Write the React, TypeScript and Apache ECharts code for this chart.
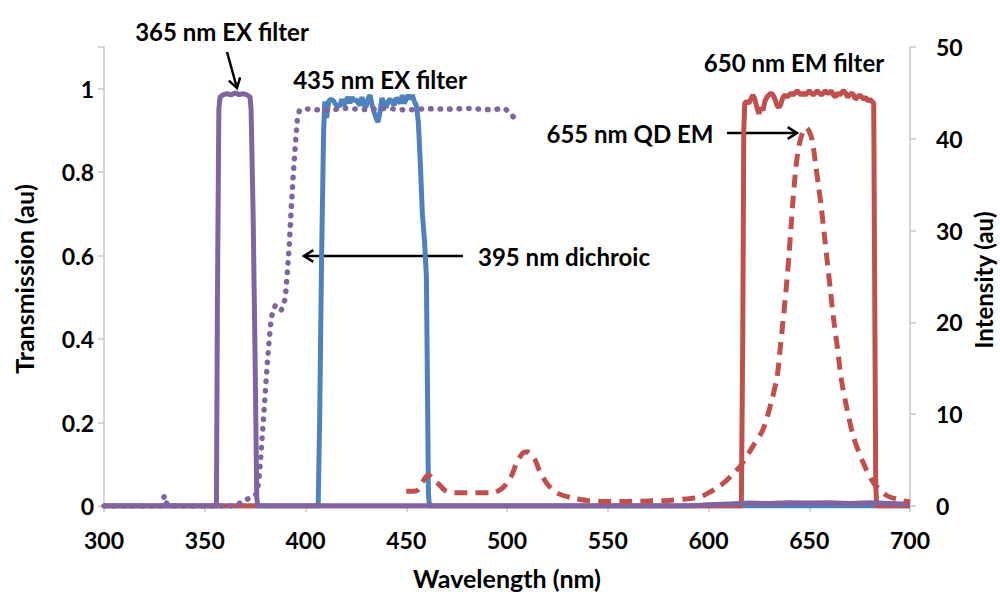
import React, { useEffect, useRef } from "react";
import * as echarts from "echarts";

// ---- axes ----
const xRange = [300, 700];
const xStep = 50;
const transRange = [0, 1.1];
const transStep = 0.2;
const intRange = [0, 50];
const intStep = 10;

// ---- series data: [wavelength nm, value] ----
const ex365: [number, number][] = [
  [300, 0], [355.8, 0], [356.3, 0.5], [357, 0.95], [357.6, 0.98], [359, 0.985], [361, 0.988],
  [363, 0.985], [365, 0.99], [367, 0.986], [369, 0.988], [371, 0.985], [372.5, 0.98], [373, 0.95],
  [374, 0.7], [375, 0.35], [375.8, 0.02], [376.3, 0], [590, 0], [600, 0.003], [610, 0.005],
  [620, 0.007], [630, 0.006], [640, 0.008], [650, 0.007], [660, 0.008], [670, 0.006], [680, 0.008],
  [690, 0.006], [700, 0.004],
];

const dichroic395: [number, number][] = [
  [300, 0], [328.5, 0], [330, 0.025], [331.5, 0], [366, 0], [368, 0.01], [373, 0.02], [376, 0.03],
  [377, 0.07], [378, 0.13], [379, 0.2], [380, 0.27], [381, 0.34], [382, 0.4], [383, 0.45],
  [384, 0.47], [385, 0.48], [386, 0.48], [387, 0.47], [388, 0.47], [389, 0.48], [390, 0.5],
  [391, 0.56], [392, 0.63], [393, 0.72], [394, 0.8], [395, 0.87], [396, 0.93], [397, 0.948],
  [400, 0.952], [410, 0.948], [420, 0.953], [430, 0.95], [440, 0.953], [450, 0.949], [460, 0.952],
  [470, 0.951], [480, 0.953], [490, 0.95], [499, 0.952], [502, 0.94], [505, 0.92],
];

const ex435: [number, number][] = [
  [300, 0], [406.3, 0], [407, 0.2], [408, 0.6], [409, 0.9], [409.6, 0.97], [410.5, 0.93],
  [411.5, 0.97], [412.5, 0.975], [414, 0.97], [415, 0.962], [417, 0.958], [418, 0.975], [419, 0.96],
  [421, 0.98], [422, 0.965], [423, 0.98], [424, 0.97], [425, 0.975], [427, 0.96], [428, 0.98],
  [429, 0.962], [430, 0.955], [431, 0.975], [432, 0.985], [433, 0.962], [434, 0.945], [435, 0.93],
  [436, 0.92], [437, 0.945], [438, 0.978], [439, 0.962], [440, 0.955], [441, 0.97], [442, 0.975],
  [444, 0.96], [445, 0.978], [446, 0.972], [447, 0.965], [448, 0.985], [449, 0.965], [450, 0.975],
  [451, 0.985], [452, 0.975], [453, 0.985], [454, 0.97], [455, 0.96], [456, 0.92], [457, 0.82],
  [458, 0.7], [459, 0.64], [460, 0.55], [460.5, 0.3], [461, 0.03], [461.5, 0], [700, 0],
];

const em650: [number, number][] = [
  [300, 0], [616.3, 0], [617, 0.4], [617.5, 0.9], [618, 0.965], [619, 0.97], [620, 0.965],
  [621, 0.975], [622, 0.985], [623, 0.975], [624, 0.955], [625, 0.94], [626, 0.955], [627, 0.948],
  [628, 0.97], [629, 0.98], [630, 0.985], [631, 0.99], [632, 0.985], [633, 0.975], [634, 0.96],
  [635, 0.955], [636, 0.965], [637, 0.98], [638, 0.985], [639, 0.98], [640, 0.985], [641, 0.99],
  [642, 0.985], [643, 0.99], [644, 0.995], [645, 0.99], [646, 0.985], [647, 0.99], [648, 0.985],
  [649, 0.99], [650, 0.995], [651, 0.99], [652, 0.985], [653, 0.99], [654, 0.995], [655, 0.99],
  [656, 0.985], [657, 0.99], [658, 0.995], [659, 0.99], [660, 0.99], [661, 0.995], [662, 0.985],
  [663, 0.98], [664, 0.99], [665, 0.985], [666, 0.99], [667, 0.995], [668, 0.99], [669, 0.98],
  [670, 0.985], [671, 0.99], [672, 0.985], [673, 0.975], [674, 0.98], [675, 0.985], [676, 0.98],
  [677, 0.975], [678, 0.98], [679, 0.97], [680, 0.975], [681, 0.97], [682, 0.965], [682.5, 0.5],
  [683, 0.05], [683.5, 0], [700, 0],
];

// intensity (right axis)
const qd655: [number, number][] = [
  [450, 1.6], [455, 1.65], [458, 2.6], [461, 3.4], [463, 3.0], [466, 2.4], [470, 1.6], [475, 1.45],
  [485, 1.45], [493, 1.45], [498, 2.0], [502, 3.2], [505, 4.8], [508, 5.8], [510, 5.9], [512, 5.6],
  [514, 5.0], [516, 3.9], [520, 2.4], [525, 1.4], [533, 0.85], [540, 0.6], [550, 0.5], [560, 0.5],
  [570, 0.55], [580, 0.6], [590, 0.8], [596, 1.0], [601, 1.55], [605, 2.1], [609, 2.8],
  [613, 3.7], [616, 4.4], [622, 6.5], [627, 8.3], [631, 11.2], [634, 14], [635.5, 17],
  [637.2, 20.6], [638.8, 24.3], [640, 27.5], [641, 30.5], [642, 33.5], [643, 36], [644, 38],
  [645.5, 39.8], [647, 40.8], [648.5, 41.2], [650, 40.8], [651.5, 39.8], [653, 37.5], [654.5, 35],
  [656, 32.5], [657.5, 29.5], [659, 26.5], [660.5, 23.5], [662, 20.5], [664, 17.2], [666, 13.7],
  [668.5, 10.8], [672, 7.5], [677, 4.6], [682, 2.5], [688, 1.2], [695, 0.65], [700, 0.45],
];

const PURPLE = "#8064A2";
const BLUE = "#4F81BD";
const RED = "#C0504D";
const FONT = "Lato, 'Open Sans', sans-serif";

function arrow(x1: number, y1: number, x2: number, y2: number) {
  const dx = x2 - x1;
  const dy = y2 - y1;
  const len = Math.sqrt(dx * dx + dy * dy);
  const ux = dx / len;
  const uy = dy / len;
  const h = 11;
  const a = (32 * Math.PI) / 180;
  const c = Math.cos(a);
  const s = Math.sin(a);
  const b1 = [x2 - h * (ux * c - uy * s), y2 - h * (uy * c + ux * s)];
  const b2 = [x2 - h * (ux * c + uy * s), y2 - h * (uy * c - ux * s)];
  return [
    { type: "line", shape: { x1, y1, x2, y2 }, style: { stroke: "#000", lineWidth: 2.5 } },
    {
      type: "polyline",
      shape: { points: [b1, [x2, y2], b2] },
      style: { stroke: "#000", lineWidth: 2.5, fill: null },
    },
  ];
}

function label(text: string, x: number, y: number, size = 24, rotation = 0) {
  return {
    type: "text",
    x,
    y,
    rotation,
    style: {
      text,
      fill: "#000",
      font: `bold ${size}px ${FONT}`,
      align: "center",
      verticalAlign: "middle",
    },
  };
}

export default function App() {
  const ref = useRef<HTMLDivElement>(null);
  useEffect(() => {
    if (!ref.current) return;
    const chart = echarts.init(ref.current, undefined, { renderer: "svg" });
    const axisLine = { show: true, lineStyle: { color: "#C8C8C8", width: 1.5 } };
    const axisTick = { show: true, length: 6, lineStyle: { color: "#C8C8C8", width: 1.5 } };
    const axisLabelBase = { color: "#000", fontSize: 23, fontWeight: "bold", fontFamily: FONT };
    chart.setOption({
      animation: false,
      backgroundColor: "#fff",
      grid: { left: 104, right: 90, top: 47, bottom: 86, containLabel: false },
      xAxis: {
        type: "value",
        min: xRange[0],
        max: xRange[1],
        interval: xStep,
        axisLine,
        axisTick,
        splitLine: { show: false },
        axisLabel: { ...axisLabelBase, margin: 22 },
      },
      yAxis: [
        {
          type: "value",
          min: transRange[0],
          max: transRange[1],
          interval: transStep,
          position: "left",
          axisLine,
          axisTick,
          splitLine: { show: false },
          axisLabel: {
            ...axisLabelBase,
            margin: 10,
            formatter: (v: number) => (v > 1.05 ? "" : String(Math.round(v * 10) / 10)),
          },
        },
        {
          type: "value",
          min: intRange[0],
          max: intRange[1],
          interval: intStep,
          position: "right",
          axisLine,
          axisTick,
          splitLine: { show: false },
          axisLabel: { ...axisLabelBase, margin: 26 },
        },
      ],
      series: [
        {
          name: "435 nm EX filter",
          type: "line",
          data: ex435,
          showSymbol: false,
          yAxisIndex: 0,
          lineStyle: { color: BLUE, width: 5 },
          z: 2,
        },
        {
          name: "650 nm EM filter",
          type: "line",
          data: em650,
          showSymbol: false,
          yAxisIndex: 0,
          lineStyle: { color: RED, width: 5 },
          z: 3,
        },
        {
          name: "365 nm EX filter",
          type: "line",
          data: ex365,
          showSymbol: false,
          yAxisIndex: 0,
          lineStyle: { color: PURPLE, width: 5 },
          z: 4,
        },
        {
          name: "395 nm dichroic",
          type: "line",
          data: dichroic395,
          showSymbol: false,
          yAxisIndex: 0,
          lineStyle: { color: PURPLE, width: 5.5, type: [0.5, 9], cap: "round" },
          z: 5,
        },
        {
          name: "655 nm QD EM",
          type: "line",
          data: qd655,
          showSymbol: false,
          yAxisIndex: 1,
          smooth: 0.3,
          lineStyle: { color: RED, width: 5, type: [13, 8] },
          z: 6,
        },
      ],
      graphic: [
        label("365 nm EX filter", 222, 31),
        label("435 nm EX filter", 380, 79),
        label("650 nm EM filter", 794, 62),
        label("655 nm QD EM", 630, 133),
        label("395 nm dichroic", 564, 256),
        ...arrow(227, 52, 237, 88),
        ...arrow(727, 133, 797, 133),
        ...arrow(463, 256, 304, 256),
        label("Wavelength (nm)", 507, 578, 25),
        label("Transmission (au)", 24, 279, 25, Math.PI / 2),
        label("Intensity (au)", 983, 280, 24, Math.PI / 2),
      ],
    });
    return () => chart.dispose();
  }, []);
  return (
    <div
      ref={ref}
      style={{ position: "fixed", left: 0, top: 0, width: 1000, height: 592, background: "#fff" }}
    />
  );
}
